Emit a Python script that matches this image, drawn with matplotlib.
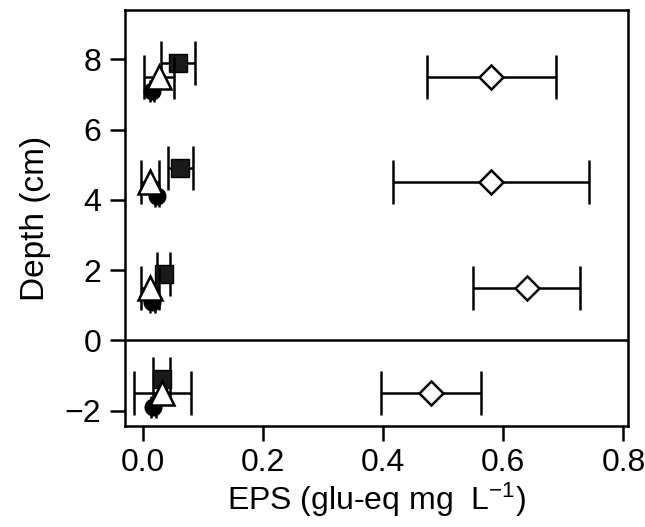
import matplotlib
matplotlib.use("Agg")
import matplotlib.pyplot as plt

plt.rcParams["font.family"] = ["Liberation Sans", "DejaVu Sans"]
plt.rcParams["mathtext.default"] = "regular"

# depth of each sampling level (cm); circles/squares plotted offset around it
depth = [7.5, 4.5, 1.5, -1.5]
circle_depth = [7.1, 4.1, 1.1, -1.9]
square_depth = [7.9, 4.9, 1.9, -1.1]

circle_x = [0.015, 0.023, 0.015, 0.017]
circle_err = [0.003, 0.004, 0.004, 0.004]
square_x = [0.058, 0.062, 0.034, 0.031]
square_err = [0.028, 0.021, 0.011, 0.014]
triangle_x = [0.027, 0.011, 0.011, 0.032]
triangle_err = [0.025, 0.015, 0.015, 0.048]
diamond_x = [0.58, 0.58, 0.639, 0.48]
diamond_err = [0.108, 0.163, 0.089, 0.083]

yticks = [-2, 0, 2, 4, 6, 8]
xticks = [0.0, 0.2, 0.4, 0.6, 0.8]

fig = plt.figure(figsize=(6.45, 5.27), dpi=100)
ax = fig.add_axes([0.194, 0.192, 0.780, 0.789])

lw = 1.8
cap = 16
ax.axhline(0, color="black", lw=lw, zorder=1)

ax.errorbar(circle_x, circle_depth, xerr=circle_err, fmt="o", ms=12, mfc="black",
            mec="black", ecolor="black", elinewidth=lw, capsize=8, capthick=lw, zorder=3)
ax.errorbar(square_x, square_depth, xerr=square_err, fmt="s", ms=13.5, mfc="#1a1a1a",
            mec="black", ecolor="black", elinewidth=lw, capsize=cap, capthick=lw, zorder=3)
ax.errorbar(triangle_x, depth, xerr=triangle_err, fmt="^", ms=17, mfc="white",
            mec="black", mew=lw, ecolor="black", elinewidth=lw, capsize=cap, capthick=lw, zorder=4)
ax.errorbar(diamond_x, depth, xerr=diamond_err, fmt="D", ms=12, mfc="white",
            mec="black", mew=lw, ecolor="black", elinewidth=lw, capsize=cap, capthick=lw, zorder=4)

ax.set_xlim(-0.03, 0.808)
ax.set_ylim(-2.43, 9.4)
ax.set_xticks(xticks)
ax.set_xticklabels([f"{t:.1f}" for t in xticks])
ax.set_yticks(yticks)
ax.set_yticklabels([str(t).replace("-", "\u2212") for t in yticks])

for s in ax.spines.values():
    s.set_linewidth(lw)
ax.tick_params(axis="both", length=11, width=lw, labelsize=23, direction="out")
ax.tick_params(axis="x", pad=5)
ax.tick_params(axis="y", pad=6)

ax.set_xlabel("EPS (glu-eq mg  L$^{-1}$)", fontsize=23, labelpad=2)
ax.set_ylabel("Depth (cm)", fontsize=24, labelpad=10)

fig.savefig("out.png", dpi=100)
